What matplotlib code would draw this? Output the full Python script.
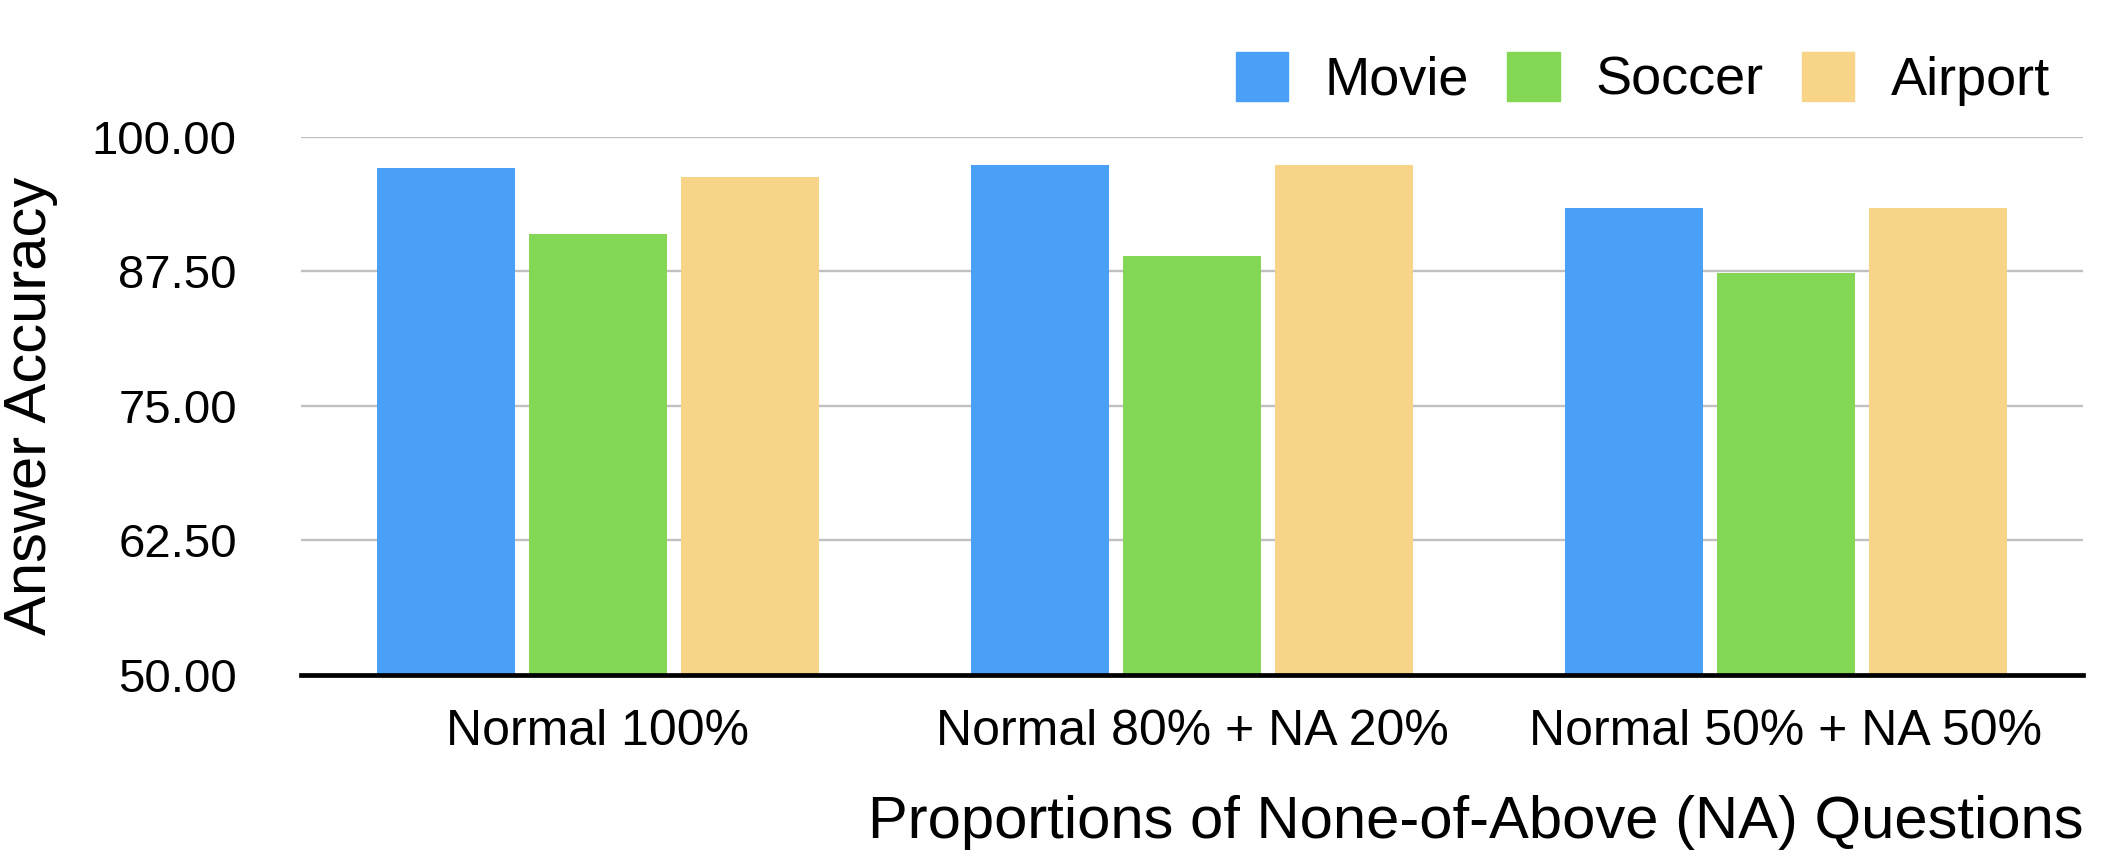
import numpy as np
import matplotlib
matplotlib.use("Agg")
import matplotlib.pyplot as plt
from matplotlib.patches import Patch

plt.rcParams['font.family'] = ['Liberation Sans', 'DejaVu Sans']

# Data
categories = ["Normal 100%", "Normal 80% + NA 20%", "Normal 50% + NA 50%"]
movie = [97.1, 97.4, 93.4]
soccer = [91.0, 88.9, 87.3]
airport = [96.3, 97.4, 93.4]
series_names = ["Movie", "Soccer", "Airport"]
colors = ["#4a9ff6", "#84d655", "#f7d487"]
yticks = [50.0, 62.5, 75.0, 87.5, 100.0]

fig = plt.figure(figsize=(21.24, 8.66), dpi=100)
ax = fig.add_axes([0.1416, 0.221, 0.8391, 0.621])

x = np.arange(len(categories))
width = 0.233
step = 0.256
for i, (vals, name, c) in enumerate(zip([movie, soccer, airport], series_names, colors)):
    ax.bar(x + (i - 1) * step, np.array(vals) - 50, width, bottom=50, color=c, label=name, zorder=2)

ax.set_xlim(-0.5, 2.5)
ax.set_ylim(50, 100)
ax.set_yticks(yticks)
ax.set_yticklabels([f"{t:.2f}" for t in yticks])
ax.set_xticks(x)
ax.set_xticklabels(categories)
ax.tick_params(axis='y', length=0, pad=46, labelsize=34)
ax.tick_params(axis='x', length=0, pad=25, labelsize=36)

ax.grid(axis='y', color='#c0c0c0', linewidth=1.7, zorder=0)
ax.set_axisbelow(True)
for s in ['top', 'right', 'left']:
    ax.spines[s].set_visible(False)
ax.spines['bottom'].set_linewidth(3.4)
ax.spines['bottom'].set_color('black')
ax.spines['bottom'].set_zorder(3)

ax.set_ylabel("Answer Accuracy", fontsize=43)
ax.yaxis.set_label_coords(-0.136, 0.5)
fig.text(0.981, 1 - 822 / 866, "Proportions of None-of-Above (NA) Questions",
         fontsize=43, ha='right', va='center')

handles = [Patch(color=c, label=n) for c, n in zip(colors, series_names)]
fig.legend(handles=handles, loc='center right', bbox_to_anchor=(2050 / 2124, 1 - 79 / 866),
           ncol=3, frameon=False, fontsize=39, handlelength=0.97, handleheight=1.0,
           handletextpad=0.67, columnspacing=0.7, borderpad=0, borderaxespad=0)

fig.savefig("out.png", dpi=100)
